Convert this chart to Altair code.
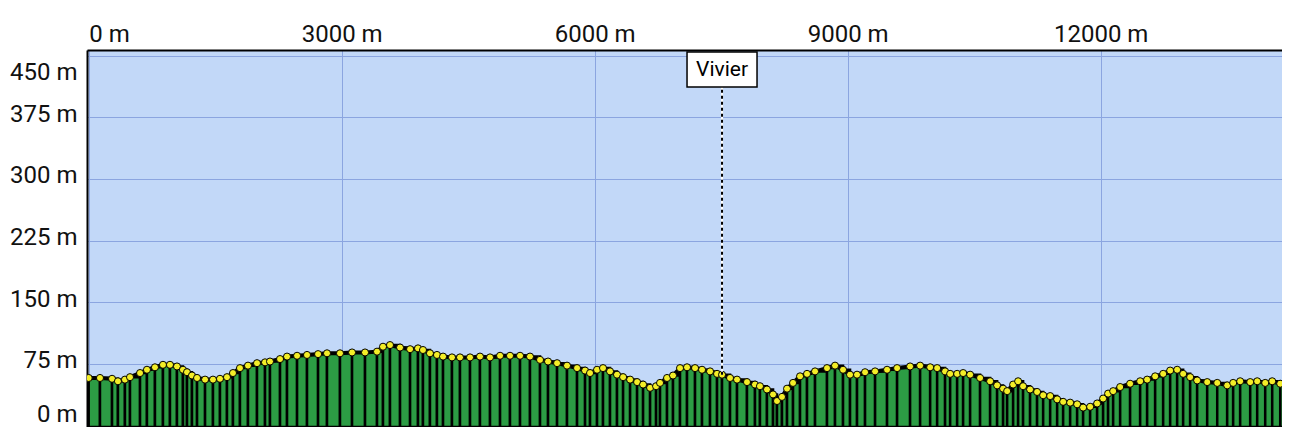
import altair as alt
import pandas as pd

# Elevation profile samples: distance along track (m) and elevation (m)
dist_m = [0, 134, 277, 347, 430, 490, 609, 691, 786, 881, 964, 1047, 1118, 1166, 1225, 1285,
          1380, 1474, 1557, 1640, 1711, 1794, 1889, 1996, 2091, 2150, 2269, 2352, 2471, 2589,
          2720, 2826, 2980, 3123, 3277, 3419, 3490, 3573, 3692, 3811, 3905, 3964, 4047, 4130,
          4202, 4308, 4403, 4522, 4640, 4759, 4878, 4996, 5115, 5233, 5352, 5447, 5554, 5672,
          5791, 5886, 5945, 6028, 6099, 6182, 6265, 6337, 6420, 6503, 6574, 6657, 6728, 6775,
          6858, 6929, 7012, 7095, 7190, 7273, 7368, 7451, 7510, 7605, 7688, 7806, 7901, 7960,
          8043, 8115, 8162, 8221, 8281, 8352, 8435, 8518, 8613, 8755, 8850, 8945, 9028, 9111,
          9206, 9325, 9467, 9586, 9740, 9859, 9978, 10061, 10155, 10215, 10298, 10369, 10452,
          10570, 10689, 10772, 10843, 10891, 10962, 11021, 11080, 11163, 11246, 11318, 11401,
          11484, 11555, 11638, 11721, 11792, 11875, 11958, 12029, 12088, 12148, 12231, 12349,
          12468, 12551, 12646, 12741, 12824, 12907, 12978, 13061, 13144, 13263, 13382, 13500,
          13571, 13654, 13773, 13856, 13951, 14034, 14129, 14247]
elev_m = [58, 58, 57, 54, 56, 59, 64, 68, 71, 74, 74, 72, 68, 65, 61, 58,
          56, 56, 57, 59, 64, 70, 73, 76, 77, 78, 81, 84, 85, 86,
          87, 88, 88, 89, 89, 90, 96, 98, 95, 93, 94, 92, 88, 86,
          84, 83, 83, 83, 84, 83, 85, 85, 85, 84, 80, 78, 76, 73,
          70, 67, 64, 68, 70, 66, 62, 59, 56, 53, 50, 46, 48, 52,
          58, 61, 70, 71, 70, 68, 66, 63, 62, 58, 56, 53, 50, 48,
          44, 38, 30, 35, 45, 52, 60, 63, 66, 70, 73, 68, 62, 62,
          65, 66, 68, 70, 72, 73, 71, 70, 66, 63, 63, 64, 62,
          58, 54, 49, 45, 42, 50, 54, 48, 44, 41, 37, 36,
          32, 29, 28, 26, 22, 23, 27, 33, 39, 42, 47, 51,
          54, 56, 60, 63, 67, 68, 63, 59, 55, 53, 52, 49,
          52, 54, 53, 54, 52, 54, 51, 52]

x_ticks = [0, 3000, 6000, 9000, 12000]
y_ticks = [0, 75, 150, 225, 300, 375, 450]

waypoint_name = ["Vivier"]
waypoint_dist = [7510]
waypoint_elev = [62]

PLOT_W = 1195
PLOT_H = 377
FONT = "Roboto, Arial, sans-serif"

df = pd.DataFrame({"dist": dist_m, "elev": elev_m})
df["dist_next"] = df["dist"].shift(-1).fillna(df["dist"].iloc[-1])
wp = pd.DataFrame({"name": waypoint_name, "dist": waypoint_dist, "elev": waypoint_elev})

x_enc = alt.X(
    "dist:Q",
    scale=alt.Scale(domain=[-20, 14150], nice=False, zero=False),
    axis=alt.Axis(
        orient="top", values=x_ticks, labelExpr="datum.value + ' m'", title=None,
        labelFlush=5, ticks=False, labelPadding=4,
        domain=True, domainColor="black", domainWidth=2,
        grid=True, gridColor="#8ba5e0", gridWidth=1,
        labelFont=FONT, labelFontSize=24, labelColor="#111111",
    ),
)
y_enc = alt.Y(
    "elev:Q",
    scale=alt.Scale(domain=[-1.6, 456.7], nice=False, zero=False),
    axis=alt.Axis(
        orient="left", values=y_ticks, labelExpr="datum.value + ' m'", title=None,
        labelFlush=False, ticks=False, labelPadding=10,
        labelOffset=alt.ExprRef("datum.value == 450 ? 17 : (datum.value == 0 ? -11 : -3)"),
        domain=True, domainColor="black", domainWidth=2,
        grid=True, gridColor="#8ba5e0", gridWidth=1,
        labelFont=FONT, labelFontSize=24, labelColor="#111111",
    ),
)

base = alt.Chart(df)

area = base.mark_area(color="black", clip=True).encode(
    x=x_enc, y=y_enc, y2=alt.value(PLOT_H)
)
bars = base.mark_rect(color="#2c9c44", stroke="black", strokeWidth=2.5, clip=True).encode(
    x="dist:Q", x2="dist_next:Q", y="elev:Q", y2=alt.value(PLOT_H)
)
outline = base.mark_line(color="black", strokeWidth=4, clip=True).encode(
    x="dist:Q", y="elev:Q"
)
dots = base.mark_circle(
    fill="#f4ee28", stroke="black", strokeWidth=1, size=50, opacity=1, clip=True
).encode(x="dist:Q", y="elev:Q")

wbase = alt.Chart(wp)
rule_w = wbase.mark_rule(color="white", strokeWidth=2).encode(
    x="dist:Q", y="elev:Q", y2=alt.value(37)
)
rule_d = wbase.mark_rule(color="black", strokeWidth=2, strokeDash=[3, 3]).encode(
    x="dist:Q", y="elev:Q", y2=alt.value(37)
)
box = wbase.mark_rect(fill="white", stroke="black", strokeWidth=1.5, width=70).encode(
    x="dist:Q", y=alt.value(2), y2=alt.value(37)
)
label = wbase.mark_text(font=FONT, fontSize=21, color="black", baseline="middle", align="center").encode(
    x="dist:Q", y=alt.value(20), text="name:N"
)

chart = alt.layer(area, bars, outline, dots, rule_w, rule_d, box, label).properties(
    width=PLOT_W,
    height=PLOT_H,
    autosize=alt.AutoSizeParams(type="none"),
    padding={"left": 79, "top": 42, "right": 0, "bottom": 0},
    background="white",
).configure_view(fill="#c2d8f8", stroke=None)

chart.save("out.html", embed_options={"renderer": "svg", "actions": False})
